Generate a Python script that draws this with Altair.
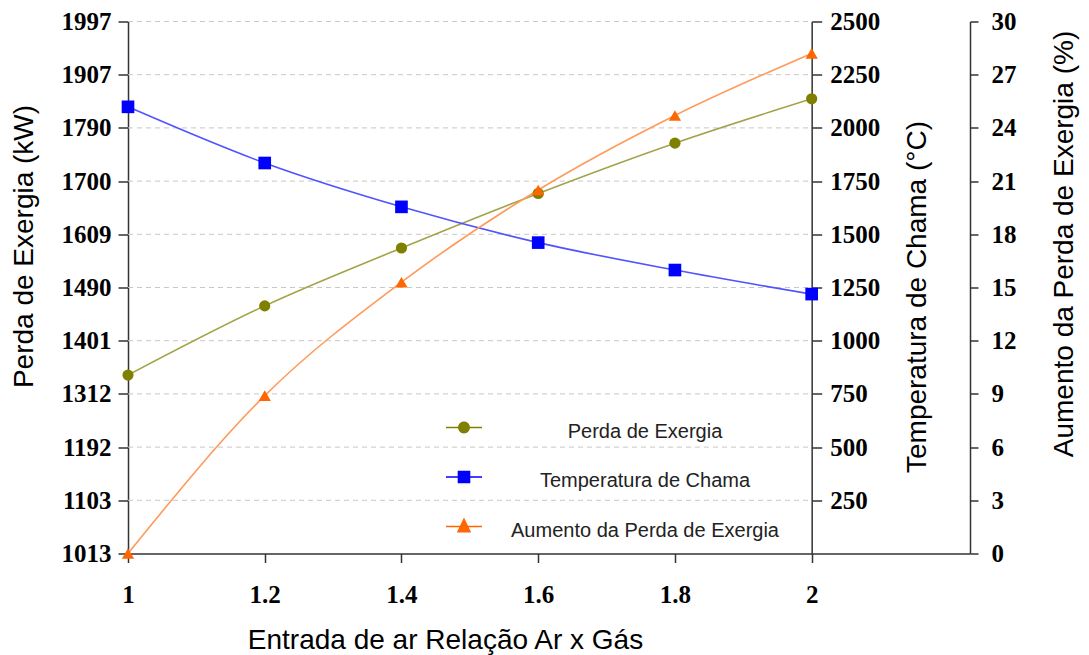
import json
import altair as alt
import pandas as pd

# ---------------- data ----------------
x_vals = [1.0, 1.2, 1.4, 1.6, 1.8, 2.0]
perda = [1343, 1471, 1578, 1679, 1772, 1854]          # Perda de Exergia (kW)
temperatura = [2099, 1835, 1629, 1461, 1332, 1219]    # Temperatura de Chama (°C)
aumento = [0.0, 8.9, 15.3, 20.5, 24.7, 28.2]          # Aumento da Perda de Exergia (%)

left_labels = ["1013", "1103", "1192", "1312", "1401", "1490",
               "1609", "1700", "1790", "1907", "1997"]
left_min, left_max = 1013, 1997
temp_ticks = [250, 500, 750, 1000, 1250, 1500, 1750, 2000, 2250, 2500]
aum_ticks = [0, 3, 6, 9, 12, 15, 18, 21, 24, 27, 30]
x_ticks = [1.0, 1.2, 1.4, 1.6, 1.8, 2.0]

series = ["Perda de Exergia", "Temperatura de Chama", "Aumento da Perda de Exergia"]
marker_colors = ["#808000", "#0000ff", "#ff6600"]
line_colors = ["#a3a34a", "#5252ff", "#ff9a5a"]

# ---------------- derived ----------------
step = (left_max - left_min) / (len(left_labels) - 1)
left_pos = [left_min + i * step for i in range(len(left_labels))]
label_expr = f"{json.dumps(left_labels)}[round((datum.value - {left_min}) / {step})]"

df = pd.DataFrame({"x": x_vals, "perda": perda, "temp": temperatura, "aum": aumento})
grid_df = pd.DataFrame({"gy": left_pos[1:]})
leg_df = pd.DataFrame({"serie": series})

W, H = 842, 532
x_scale = alt.Scale(domain=[1.0, 2.2316], nice=False, zero=False)
mid_offset = -(W - W * (2.0 - 1.0) / (2.2316 - 1.0))

lab = dict(labelFont="Liberation Serif", labelFontWeight="bold", labelFontSize=25,
           labelColor="black", domainColor="#333333", domainWidth=1.5,
           tickColor="#333333", tickWidth=1.5, grid=False, labelOverlap=False,
           labelFlush=False, titleFont="Liberation Sans", titleFontSize=28,
           titleFontWeight="normal", titleColor="black")

x_axis = alt.Axis(values=x_ticks, format="~g", tickSize=9, labelPadding=20,
                  title="Entrada de ar Relação Ar x Gás", titleX=317, titleY=94.5,
                  titleAlign="center", titleBaseline="alphabetic", **lab)
X = alt.X("x:Q", scale=x_scale, axis=x_axis)

left_axis = alt.Axis(orient="left", values=left_pos, labelExpr=label_expr, tickSize=10,
                     labelPadding=7, title="Perda de Exergia (kW)", titleAngle=270,
                     titleX=-96, titleY=224.5, titleAlign="center",
                     titleBaseline="alphabetic", **lab)
temp_axis = alt.Axis(orient="right", offset=mid_offset, values=temp_ticks, format="d",
                     tickSize=10, labelPadding=8, title="Temperatura de Chama (°C)",
                     titleAngle=270, titleX=114, titleY=275, titleAlign="center",
                     titleBaseline="alphabetic", **lab)
aum_axis = alt.Axis(orient="right", offset=0, values=aum_ticks, format="d", tickSize=8,
                    labelPadding=13, title="Aumento da Perda de Exergia (%)",
                    titleAngle=270, titleX=102, titleY=222, titleAlign="center",
                    titleBaseline="alphabetic", **lab)

left_scale = alt.Scale(domain=[left_min, left_max], nice=False, zero=False)
temp_scale = alt.Scale(domain=[0, 2500], nice=False, zero=False)
aum_scale = alt.Scale(domain=[0, 30], nice=False, zero=False)

base = alt.Chart(df)

grid = alt.Chart(grid_df).mark_rule(color="#c8c8c8", strokeDash=[5, 4], strokeWidth=1).encode(
    y=alt.Y("gy:Q", scale=left_scale, axis=None),
    x=alt.datum(min(x_vals)), x2=alt.datum(max(x_vals)))

perda_line = base.mark_line(color=line_colors[0], strokeWidth=1.6, interpolate="monotone").encode(
    x=X, y=alt.Y("perda:Q", scale=left_scale, axis=left_axis))
perda_pts = base.mark_point(shape="circle", filled=True, size=125, opacity=1,
                            color=marker_colors[0]).encode(
    x=X, y=alt.Y("perda:Q", scale=left_scale, axis=None))

temp_line = base.mark_line(color=line_colors[1], strokeWidth=1.6, interpolate="monotone").encode(
    x=X, y=alt.Y("temp:Q", scale=temp_scale, axis=temp_axis))
temp_pts = base.mark_point(shape="square", filled=True, size=160, opacity=1,
                           color=marker_colors[1]).encode(
    x=X, y=alt.Y("temp:Q", scale=temp_scale, axis=None))

aum_line = base.mark_line(color=line_colors[2], strokeWidth=1.6, interpolate="monotone").encode(
    x=X, y=alt.Y("aum:Q", scale=aum_scale, axis=aum_axis))
aum_pts = base.mark_point(shape="triangle-up", filled=True, size=150, opacity=1,
                          color=marker_colors[2]).encode(
    x=X, y=alt.Y("aum:Q", scale=aum_scale, axis=None))

# legend symbols: a short bar (the line) plus the marker, in unit coordinates
bar = "M-1,-0.265H1V-0.175H-1Z"
paths = [
    bar + "M-0.33,-0.22A0.33,0.33,0,1,1,0.33,-0.22A0.33,0.33,0,1,1,-0.33,-0.22Z",
    bar + "M-0.35,-0.57H0.35V0.13H-0.35Z",
    bar + "M0,-0.72L0.4,0.11H-0.4Z",
]
leg = alt.Legend(orient="none", legendX=318, legendY=392, title=None, direction="vertical",
                 padding=0, symbolSize=1296, symbolStrokeWidth=0, labelAlign="center",
                 labelOffset=163, labelFont="Liberation Sans", labelFontSize=20,
                 labelColor="#222222", labelLimit=500, rowPadding=21.5)
legend_layer = alt.Chart(leg_df).transform_filter("false").mark_point(filled=True, opacity=1).encode(
    color=alt.Color("serie:N", scale=alt.Scale(domain=series, range=marker_colors), legend=leg),
    shape=alt.Shape("serie:N", scale=alt.Scale(domain=series, range=paths), legend=leg),
)

chart = alt.layer(
    grid, perda_line, temp_line, aum_line, perda_pts, temp_pts, aum_pts, legend_layer
).resolve_scale(y="independent").properties(
    width=W, height=H,
    autosize=alt.AutoSizeParams(type="none"),
    padding={"left": 128, "top": 21.5, "right": 1089 - 128 - W, "bottom": 655 - 21.5 - H},
    background="white",
).configure_view(strokeWidth=0)

chart.save("out.html", embed_options={"renderer": "svg", "actions": False})
